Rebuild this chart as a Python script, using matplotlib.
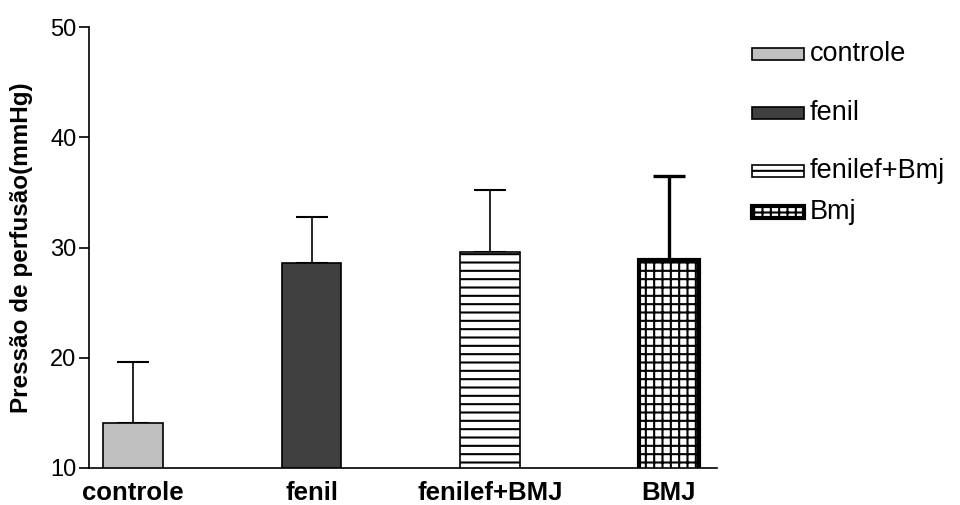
import matplotlib
matplotlib.use("Agg")
import matplotlib.pyplot as plt
from matplotlib.patches import Rectangle
import numpy as np

plt.rcParams['font.family'] = ['Liberation Sans', 'DejaVu Sans']
plt.rcParams['hatch.linewidth'] = 1.5

# data
categories = ['controle', 'fenil', 'fenilef+BMJ', 'BMJ']
means = [14.1, 28.6, 29.6, 28.9]
errors = [5.5, 4.2, 5.6, 7.6]
legend_labels = ['controle', 'fenil', 'fenilef+Bmj', 'Bmj']

colors = ['#c0c0c0', '#404040', 'white', 'white']
hatches = [None, None, '--', '++']
edge_widths = [1.2, 1.2, 1.2, 3.0]

fig = plt.figure(figsize=(9.6, 5.05), dpi=100)
ax = fig.add_axes([89/960, 1-468/505, (717-89)/960, (468-27)/505])

x = np.arange(len(categories))
for i in range(len(categories)):
    ax.bar(x[i], means[i], width=0.335, color=colors[i], edgecolor='black',
           linewidth=edge_widths[i], hatch=hatches[i], zorder=2)
    ax.errorbar(x[i], means[i], yerr=[[0], [errors[i]]], fmt='none',
                ecolor='black', elinewidth=max(1.2, edge_widths[i]-0.6),
                capsize=11.5, capthick=max(1.5, edge_widths[i]-0.6), zorder=1)

ax.set_xlim(-0.246, 3.27)
ax.set_ylim(10, 50)
ax.set_yticks([10, 20, 30, 40, 50])
ax.set_xticks(x)
ax.set_xticklabels(categories, fontsize=18.5, fontweight='bold')
ax.tick_params(axis='x', length=0, pad=9)
ax.tick_params(axis='y', length=7, width=1.2, labelsize=17, pad=2)
for s in ['top', 'right']:
    ax.spines[s].set_visible(False)
for s in ['left', 'bottom']:
    ax.spines[s].set_linewidth(1.2)

ax.set_ylabel('Pressão de perfusão(mmHg)', fontsize=17.5, fontweight='bold')
ax.yaxis.set_label_coords(-0.089, 0.5)

# legend drawn by hand to keep the uneven spacing of the original
leg_y = [54, 113, 171, 212]
for i, lab in enumerate(legend_labels):
    yc = 1 - leg_y[i]/505
    h = 12/505
    fig.add_artist(Rectangle((752/960, yc - h/2), 52/960, h,
                             transform=fig.transFigure, facecolor=colors[i],
                             edgecolor='black', linewidth=edge_widths[i],
                             hatch=hatches[i]))
    fig.text(810/960, yc, lab, fontsize=19.5, va='center', ha='left')

fig.savefig('out.png', dpi=100)
